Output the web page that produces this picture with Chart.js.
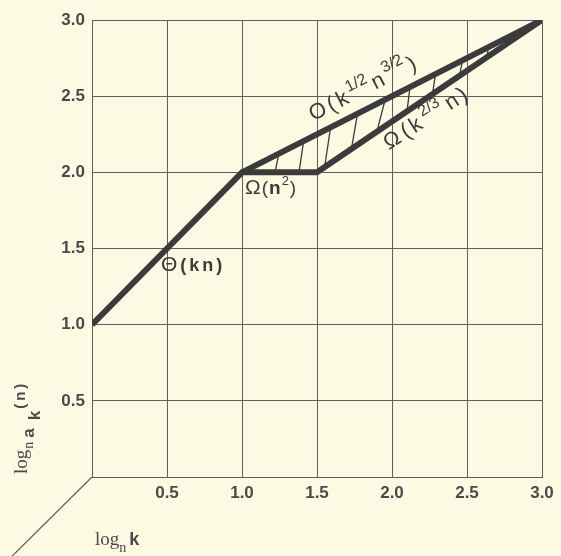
<!DOCTYPE html>
<html>
<head>
<meta charset="utf-8">
<script src="https://cdn.jsdelivr.net/npm/chart.js@4.4.0/dist/chart.umd.min.js"></script>
<style>
  html, body { margin: 0; padding: 0; background: #fcfae2; }
  #wrap { width: 561px; height: 556px; position: relative; }
</style>
</head>
<body>
<div id="wrap"><canvas id="chart"></canvas></div>
<script>
// Region bounds (x = log_n k, y = log_n a_k(n))
const lowerK = [0, 1, 1.5, 3];
const lowerA = [1, 2, 2, 3];
const upperK = [1, 3];
const upperA = [2, 3];

// hatch strokes between the two bounds (start / end)
const hatchK0 = [1.22, 1.38, 1.55, 1.73, 1.90, 2.10, 2.27, 2.45, 2.63];
const hatchA0 = [2.00, 2.00, 2.03, 2.155, 2.27, 2.40, 2.515, 2.635, 2.755];
const hatchK1 = [1.245, 1.41, 1.59, 1.77, 1.955, 2.12, 2.29, 2.47, 2.645];
const hatchA1 = [2.12, 2.20, 2.29, 2.385, 2.48, 2.56, 2.645, 2.735, 2.82];

// third (depth) axis going off to the lower left
const depthK = [0, -0.6];
const depthA = [0, -0.585];

const tickValues = [0.5, 1.0, 1.5, 2.0, 2.5, 3.0];

const INK = '#3b3b3b';
const TEXT = '#4a4a4a';
const GRID = '#5e5e5e';

function pts(xs, ys) {
    return xs.map((x, i) => ({ x: x, y: ys[i] }));
}

function hatchPoints() {
    const out = [];
    hatchK0.forEach((k, i) => {
        out.push({ x: k, y: hatchA0[i] });
        out.push({ x: hatchK1[i], y: hatchA1[i] });
        out.push({ x: hatchK1[i], y: null });  // break the line
    });
    return out;
}

// draw a row of text pieces (sub/superscripts) along a rotated baseline
function drawRuns(ctx, x, y, ang, runs) {
    ctx.save();
    ctx.translate(x, y);
    ctx.rotate(ang);
    ctx.textBaseline = 'alphabetic';
    ctx.textAlign = 'left';
    let cx = 0;
    for (const r of runs) {
        ctx.font = r.f;
        ctx.fillText(r.t, cx, r.dy || 0);
        cx += ctx.measureText(r.t).width + (r.gap || 0);
    }
    ctx.restore();
}

const labelPlugin = {
    id: 'labels',
    afterDatasetsDraw(chart) {
        const ctx = chart.ctx;
        const xs = chart.scales.x, ys = chart.scales.y;
        const px = v => xs.getPixelForValue(v);
        const py = v => ys.getPixelForValue(v);
        const slope = s => -Math.atan(s * (py(0) - py(1)) / (px(1) - px(0)));
        ctx.save();
        ctx.fillStyle = INK;
        const sans = '"Liberation Sans", Arial, sans-serif';
        const serif = '"Liberation Serif", "Times New Roman", serif';

        // Θ(kn)
        drawRuns(ctx, px(0.46), py(1.35), 0, [
            { t: 'Θ', f: '21px ' + sans, gap: 3 },
            { t: '(', f: 'bold 18px ' + sans, gap: 3 },
            { t: 'k', f: 'bold 18px ' + sans, gap: 3 },
            { t: 'n', f: 'bold 18px ' + sans, gap: 3 },
            { t: ')', f: 'bold 18px ' + sans }
        ]);

        // Ω(n²)
        drawRuns(ctx, px(1.02), py(1.86), 0, [
            { t: 'Ω', f: '21px ' + sans, gap: 1 },
            { t: '(', f: '19px ' + sans, gap: 1 },
            { t: 'n', f: 'bold 19px ' + sans, gap: 1 },
            { t: '2', f: '13px ' + sans, dy: -9, gap: 1 },
            { t: ')', f: '19px ' + sans }
        ]);

        // O(k^{1/2} n^{3/2}) along the upper bound
        drawRuns(ctx, px(1.475), py(2.335), slope(0.5), [
            { t: 'O', f: '22px ' + sans, gap: 3 },
            { t: '(', f: '22px ' + sans, gap: 3 },
            { t: 'k', f: '22px ' + sans, gap: 3 },
            { t: '1/2', f: '16px ' + sans, dy: -10, gap: 3 },
            { t: 'n', f: '22px ' + sans, gap: 3 },
            { t: '3/2', f: '16px ' + sans, dy: -11, gap: 3 },
            { t: ')', f: '22px ' + sans }
        ]);

        // Ω(k^{2/3} n) along the lower bound
        drawRuns(ctx, px(1.98), py(2.145), slope(0.667) + 0.02, [
            { t: 'Ω', f: '22px ' + sans, gap: 4 },
            { t: '(', f: '22px ' + sans, gap: 3 },
            { t: 'k', f: '22px ' + sans, gap: 4 },
            { t: '2/3', f: '16px ' + sans, dy: -10, gap: 5 },
            { t: 'n', f: '22px ' + sans, gap: 3 },
            { t: ')', f: '22px ' + sans }
        ]);

        // axis titles
        ctx.fillStyle = TEXT;
        drawRuns(ctx, 27, 474, -Math.PI / 2, [
            { t: 'log', f: '19px ' + serif, gap: 1 },
            { t: 'n', f: '14px ' + serif, dy: 6, gap: 4 },
            { t: 'a', f: 'bold 17px ' + sans, dy: 7, gap: 8 },
            { t: 'k', f: 'bold 17px ' + sans, dy: 13, gap: 2 },
            { t: '(', f: 'bold 15px ' + sans, dy: -2, gap: 3 },
            { t: 'n', f: 'bold 15px ' + sans, dy: -2, gap: 3 },
            { t: ')', f: 'bold 15px ' + sans, dy: -2 }
        ]);
        drawRuns(ctx, 95, 545, 0, [
            { t: 'log', f: '19px ' + serif },
            { t: 'n', f: '14px ' + serif, dy: 7, gap: 3 },
            { t: 'k', f: 'bold 18px ' + sans }
        ]);
        ctx.restore();
    }
};

const tickFont = { family: '"Liberation Sans", Arial, sans-serif', size: 17, weight: 'bold' };

new Chart(document.getElementById('chart'), {
    type: 'scatter',
    data: {
        datasets: [
            {
                label: 'lower bound',
                data: pts(lowerK, lowerA),
                showLine: true,
                borderColor: INK,
                borderWidth: 6,
                pointRadius: 0,
                borderJoinStyle: 'round'
            },
            {
                label: 'upper bound',
                data: pts(upperK, upperA),
                showLine: true,
                borderColor: INK,
                borderWidth: 6,
                pointRadius: 0
            },
            {
                label: 'hatch',
                data: hatchPoints(),
                showLine: true,
                spanGaps: false,
                borderColor: INK,
                borderWidth: 1.3,
                pointRadius: 0
            },
            {
                label: 'depth axis',
                data: pts(depthK, depthA),
                showLine: true,
                borderColor: GRID,
                borderWidth: 1.2,
                pointRadius: 0,
                clip: false
            }
        ]
    },
    options: {
        responsive: true,
        maintainAspectRatio: false,
        animation: false,
        layout: { padding: { left: 0, right: 19, top: 20, bottom: 0 } },
        plugins: {
            legend: { display: false },
            tooltip: { enabled: false }
        },
        scales: {
            x: {
                type: 'linear',
                min: 0,
                max: 3,
                afterBuildTicks: s => { s.ticks = [0].concat(tickValues).map(v => ({ value: v })); },
                afterFit: s => { s.height = 79; },
                ticks: {
                    color: TEXT,
                    font: tickFont,
                    padding: 6,
                    callback: v => (v === 0 ? '' : v.toFixed(1))
                },
                grid: { color: GRID, lineWidth: 1, drawTicks: false },
                border: { color: GRID, width: 1 }
            },
            y: {
                type: 'linear',
                min: 0,
                max: 3,
                afterBuildTicks: s => { s.ticks = [0].concat(tickValues).map(v => ({ value: v })); },
                afterFit: s => { s.width = 92; },
                ticks: {
                    color: TEXT,
                    font: tickFont,
                    padding: 7,
                    callback: v => (v === 0 ? '' : v.toFixed(1))
                },
                grid: { color: GRID, lineWidth: 1, drawTicks: false },
                border: { color: GRID, width: 1 }
            }
        }
    },
    plugins: [labelPlugin]
});
</script>
</body>
</html>
